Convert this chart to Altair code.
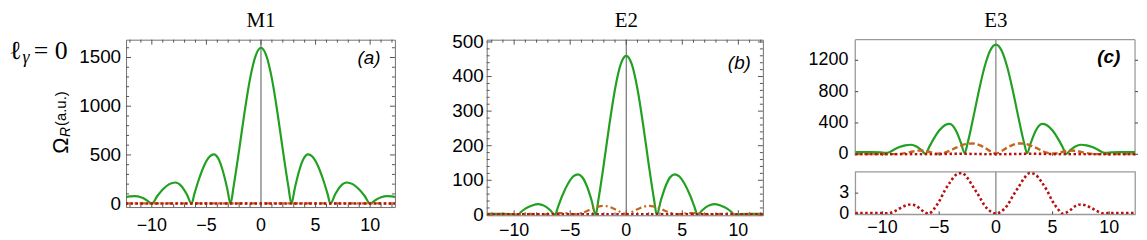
import altair as alt
import pandas as pd

# ---------------- values ----------------
# (a) M1
M1_GREEN_X = [-12.4, -12, -11.5, -11, -10.5, -10, -9.5, -9, -8.4, -7.85, -7.3, -6.8, -6.36, -6.1, -5.7, -5.2, -4.7, -4.31, -3.9, -3.5, -3.1, -2.79, -2.5, -2, -1.5, -1, -0.5,
              0, 0.5, 1, 1.5, 2, 2.5, 2.79, 3.1, 3.5, 3.9, 4.31, 4.7, 5.2, 5.7, 6.1, 6.36, 6.8, 7.3, 7.85, 8.4, 9, 9.5, 10, 10.5, 11, 11.5, 12, 12.4]
M1_GREEN_Y = [67, 74, 78, 65, 38, 0, 78, 145, 200, 217, 182, 97, 0, 100, 245, 392, 483, 505, 460, 338, 159, 0, 182, 552, 941, 1283, 1515,
              1600, 1515, 1283, 941, 552, 182, 0, 159, 338, 460, 505, 483, 392, 245, 100, 0, 97, 182, 217, 200, 145, 78, 0, 38, 65, 78, 74, 67]
M1_ORANGE_X = [-12.4, -6, 0, 6, 12.4]
M1_ORANGE_Y = [2, 2, 2, 2, 2]
M1_RED_X = [-12.4, -6, 0, 6, 12.4]
M1_RED_Y = [2, 2, 2, 2, 2]

# (b) E2
E2_GREEN_X = [-12.4, -12, -11, -10.2, -9.65, -9.4, -9, -8.4, -7.85, -7.3, -6.8, -6.35, -6.1, -5.7, -5.2, -4.7, -4.3, -3.9, -3.5, -3.1, -2.72, -2.5, -2, -1.5, -1, -0.5,
              0, 0.5, 1, 1.5, 2, 2.5, 2.72, 3.1, 3.5, 3.9, 4.3, 4.7, 5.2, 5.7, 6.1, 6.35, 6.8, 7.3, 7.85, 8.4, 9, 9.4, 9.65, 10.2, 11, 12, 12.4]
E2_GREEN_Y = [3, 3, 3, 2, 0, 8, 18, 27, 31, 26, 14, 0, 22, 56, 90, 112, 117, 108, 82, 43, 0, 40, 147, 262, 364, 435,
              460, 435, 364, 262, 147, 40, 0, 43, 82, 108, 117, 112, 90, 56, 22, 0, 14, 26, 31, 27, 18, 8, 0, 2, 3, 3, 3]
E2_ORANGE_X = [-12.4, -11, -10, -9.5, -9, -8.5, -8, -7.5, -7, -6.5, -6, -5.5, -5, -4.5, -4, -3.5, -3, -2.5, -2, -1.5, -1, -0.5,
               0, 0.5, 1, 1.5, 2, 2.5, 3, 3.5, 4, 4.5, 5, 5.5, 6, 6.5, 7, 7.5, 8, 8.5, 9, 9.5, 10, 11, 12.4]
E2_ORANGE_Y = [1, 1, 1, 2, 3, 3, 2, 1, 2, 4, 5, 5, 3, 2, 5, 11, 19, 24, 26, 23, 16, 8,
               2, 8, 16, 23, 26, 24, 19, 11, 5, 2, 3, 5, 5, 4, 2, 1, 2, 3, 3, 2, 1, 1, 1]
E2_RED_X = [-12.4, -6, 0, 6, 12.4]
E2_RED_Y = [2, 2, 2, 2, 2]

# (c) E3
E3_GREEN_X = [-12.4, -12, -11, -10.2, -9.7, -9.4, -9, -8.5, -8, -7.5, -7, -6.6, -6.2, -5.9, -5.5, -5, -4.5, -4.1, -3.8, -3.5, -3.1, -2.75, -2.5, -2, -1.5, -1, -0.5,
              0, 0.5, 1, 1.5, 2, 2.5, 2.75, 3.1, 3.5, 3.8, 4.1, 4.5, 5, 5.5, 5.9, 6.2, 6.6, 7, 7.5, 8, 8.5, 9, 9.4, 9.7, 10.2, 11, 12, 12.4]
E3_GREEN_Y = [28, 28, 28, 24, 18, 26, 58, 92, 114, 122, 100, 57, 5, 87, 194, 303, 371, 388, 365, 297, 154, 15, 138, 463, 809, 1114, 1325,
              1400, 1325, 1114, 809, 463, 138, 15, 154, 297, 365, 388, 371, 303, 194, 87, 5, 57, 100, 122, 114, 92, 58, 26, 18, 24, 28, 28, 28]
E3_ORANGE_X = [-12.4, -10, -9, -8.5, -8, -7.5, -7, -6.5, -6, -5.5, -5, -4.5, -4, -3.5, -3, -2.5, -2, -1.5, -1, -0.5,
               0, 0.5, 1, 1.5, 2, 2.5, 3, 3.5, 4, 4.5, 5, 5.5, 6, 6.5, 7, 7.5, 8, 8.5, 9, 10, 12.4]
E3_ORANGE_Y = [2, 2, 2, 5, 15, 30, 45, 48, 35, 15, 8, 20, 50, 85, 115, 135, 138, 120, 85, 40,
               10, 40, 85, 120, 138, 135, 115, 85, 50, 20, 8, 15, 35, 48, 45, 30, 15, 5, 2, 2, 2]
E3_RED_X = [-12.4, -12, -11, -10, -9.5, -9, -8.5, -8, -7.5, -7, -6.5, -5.9, -5.5, -5, -4.5, -4, -3.5, -3, -2.5, -2, -1.5, -1, -0.5,
            0, 0.5, 1, 1.5, 2, 2.5, 3, 3.5, 4, 4.5, 5, 5.5, 5.9, 6.5, 7, 7.5, 8, 8.5, 9, 9.5, 10, 11, 12, 12.4]
E3_RED_Y = [0.1, 0.1, 0.1, 0.08, 0.05, 0.3, 0.75, 1.15, 1.34, 1.1, 0.45, 0, 0.6, 1.8, 3.4, 4.7, 5.7, 5.95, 5.2, 3.9, 2.6, 1.2, 0.35,
            0, 0.35, 1.2, 2.6, 3.9, 5.2, 5.95, 5.7, 4.7, 3.4, 1.8, 0.6, 0, 0.45, 1.1, 1.34, 1.15, 0.75, 0.3, 0.05, 0.08, 0.1, 0.1, 0.1]

# tick values, tick labels and texts
X_MAJOR = [-10, -5, 0, 5, 10]
X_LABELS = ["\u221210", "\u22125", "0", "5", "10"]
X_MINOR = [-12, -11, -9, -8, -7, -6, -4, -3, -2, -1, 1, 2, 3, 4, 6, 7, 8, 9, 11, 12]
A_Y_MAJOR = [0, 500, 1000, 1500]
A_Y_LABELS = ["0", "500", "1000", "1500"]
A_Y_MINOR = [100, 200, 300, 400, 600, 700, 800, 900, 1100, 1200, 1300, 1400, 1600]
B_Y_MAJOR = [0, 100, 200, 300, 400, 500]
B_Y_LABELS = ["0", "100", "200", "300", "400", "500"]
B_Y_MINOR = [20, 40, 60, 80, 120, 140, 160, 180, 220, 240, 260, 280, 320, 340, 360, 380, 420, 440, 460, 480]
C_Y_MAJOR = [0, 400, 800, 1200]
C_Y_LABELS = ["0", "400", "800", "1200"]
CL_Y_MAJOR = [0, 3]
CL_Y_LABELS = ["0", "3"]
ZERO = [0]
TITLES = ["M1", "E2", "E3"]
TAGS = ["(a)", "(b)", "(c)"]

# ---------------- styling ----------------
SANS = "Liberation Sans"
SERIF = "Liberation Serif"
GREEN = "#22a022"
ORANGE = "#c4661c"
RED = "#b81010"
TICK = "#555555"
FRAME = "#707070"
FRAME_C = "#9a9a9a"
DASHDOT = [6, 3, 2, 3]
DOT = [2.5, 2.5]


def sc(dom):
    return alt.Scale(domain=dom, nice=False, zero=False)


def curve(xs, ys, xsc, ysc, color, dash=None, width=2.2):
    kw = dict(color=color, strokeWidth=width, clip=True, interpolate="monotone")
    if dash is not None:
        kw["strokeDash"] = dash
    return alt.Chart(pd.DataFrame({"x": xs, "y": ys})).mark_line(**kw).encode(
        x=alt.X("x:Q", scale=xsc, axis=None),
        y=alt.Y("y:Q", scale=ysc, axis=None),
    )


def zero_rule(xsc, color, width):
    return alt.Chart(pd.DataFrame({"x": ZERO})).mark_rule(color=color, strokeWidth=width).encode(
        x=alt.X("x:Q", scale=xsc, axis=None))


def ticks(vals, side, length, w, h, xsc, ysc, color=TICK, width=1.0):
    base = alt.Chart(pd.DataFrame({"v": vals})).mark_rule(color=color, strokeWidth=width)
    if side in ("bottom", "top"):
        enc = dict(x=alt.X("v:Q", scale=xsc, axis=None))
        if side == "bottom":
            enc.update(y=alt.value(h), y2=alt.value(h - length))
        else:
            enc.update(y=alt.value(0), y2=alt.value(length))
    else:
        enc = dict(y=alt.Y("v:Q", scale=ysc, axis=None))
        if side == "left":
            enc.update(x=alt.value(0), x2=alt.value(length))
        else:
            enc.update(x=alt.value(w), x2=alt.value(w - length))
    return base.encode(**enc)


def xlabels(xsc, h, pad, size):
    df = pd.DataFrame({"v": X_MAJOR, "s": X_LABELS})
    return alt.Chart(df).mark_text(font=SANS, fontSize=size, align="center", baseline="top", color="black").encode(
        x=alt.X("v:Q", scale=xsc, axis=None), y=alt.value(h + pad), text="s:N")


def ylabels(vals, labels, ysc, pad, size):
    df = pd.DataFrame({"v": vals, "s": labels})
    return alt.Chart(df).mark_text(font=SANS, fontSize=size, align="right", baseline="middle", color="black").encode(
        y=alt.Y("v:Q", scale=ysc, axis=None), x=alt.value(-pad), text="s:N")


def text(txt, x, y, size, font=SANS, align="left", baseline="alphabetic", **extra):
    return alt.Chart(pd.DataFrame({"t": [txt]})).mark_text(
        font=font, fontSize=size, align=align, baseline=baseline, color="black", **extra
    ).encode(text="t:N", x=x, y=y)


def frame_ticks(w, h, xsc, ysc, ymaj, ymin):
    out = []
    for side in ("bottom", "top"):
        out.append(ticks(X_MAJOR, side, 5, w, h, xsc, ysc))
        out.append(ticks(X_MINOR, side, 3, w, h, xsc, ysc))
    for side in ("left", "right"):
        out.append(ticks(ymaj, side, 5, w, h, xsc, ysc))
        out.append(ticks(ymin, side, 3, w, h, xsc, ysc))
    return out


# ---------------- panel (a) ----------------
A_W, A_H = 271, 168.7
axs, ays = sc([-12.36, 12.27]), sc([-35, 1683])
panel_a = alt.layer(
    *frame_ticks(A_W, A_H, axs, ays, A_Y_MAJOR, A_Y_MINOR),
    zero_rule(axs, "#555555", 1),
    curve(M1_GREEN_X, M1_GREEN_Y, axs, ays, GREEN),
    curve(M1_ORANGE_X, M1_ORANGE_Y, axs, ays, ORANGE, dash=DASHDOT),
    curve(M1_RED_X, M1_RED_Y, axs, ays, RED, dash=DOT, width=2.4),
    xlabels(axs, A_H, 10, 18),
    ylabels(A_Y_MAJOR, A_Y_LABELS, ays, 5, 19),
    text(TITLES[0], alt.XDatum(0, scale=axs, axis=None), alt.value(-13), 21, font=SERIF, align="center"),
    text(TAGS[0], alt.value(244.8), alt.value(18.5), 19, align="center", baseline="middle", fontStyle="italic"),
    text("ℓ", alt.value(-117.7), alt.value(19), 26, font="DejaVu Serif"),
    text("γ", alt.value(-104.5), alt.value(24), 18, font=SERIF, fontStyle="italic"),
    text("= 0", alt.value(-93), alt.value(19), 26, font=SERIF),
    text("Ω", alt.value(-59), alt.value(115), 22, angle=270),
    text("R", alt.value(-56.5), alt.value(98), 14, angle=270, fontStyle="italic"),
    text("(a.u.)", alt.value(-60.5), alt.value(87), 15, angle=270),
).properties(width=A_W, height=A_H, view=alt.ViewBackground(stroke=FRAME, strokeWidth=1))

# ---------------- panel (b) ----------------
B_W, B_H = 278.4, 177
bxs, bys = sc([-12.45, 12.19]), sc([-1.2, 506.6])
panel_b = alt.layer(
    *frame_ticks(B_W, B_H, bxs, bys, B_Y_MAJOR, B_Y_MINOR),
    zero_rule(bxs, "#555555", 1),
    curve(E2_GREEN_X, E2_GREEN_Y, bxs, bys, GREEN),
    curve(E2_ORANGE_X, E2_ORANGE_Y, bxs, bys, ORANGE, dash=DASHDOT),
    curve(E2_RED_X, E2_RED_Y, bxs, bys, RED, dash=DOT, width=2.4),
    xlabels(bxs, B_H, 7, 18),
    ylabels(B_Y_MAJOR, B_Y_LABELS, bys, 3, 19),
    text(TITLES[1], alt.XDatum(0, scale=bxs, axis=None), alt.value(-13), 21, font=SERIF, align="center"),
    text(TAGS[1], alt.value(254.7), alt.value(23.5), 19, align="center", baseline="middle", fontStyle="italic"),
).properties(width=B_W, height=B_H, view=alt.ViewBackground(stroke=FRAME, strokeWidth=1))

# ---------------- panel (c) ----------------
C_W, CU_H, CL_H = 282, 117, 43
cxs, cuys, clys = sc([-12.4, 12.27]), sc([-19, 1464]), sc([-0.1, 6.15])
one = pd.DataFrame({"k": ZERO})
c_frame = [
    alt.Chart(one).mark_rule(color=FRAME_C, strokeWidth=1.3).encode(x=alt.value(0), y=alt.value(0), y2=alt.value(CU_H)),
    alt.Chart(one).mark_rule(color=FRAME_C, strokeWidth=1.3).encode(x=alt.value(C_W), y=alt.value(0), y2=alt.value(CU_H)),
    alt.Chart(one).mark_rule(color=FRAME_C, strokeWidth=1.3).encode(x=alt.value(0), x2=alt.value(C_W), y=alt.value(0)),
]
c_upper = alt.layer(
    *c_frame,
    ticks(X_MAJOR, "bottom", 3, C_W, CU_H, cxs, cuys, color="#444444"),
    ticks(C_Y_MAJOR, "left", 3, C_W, CU_H, cxs, cuys, color="#444444"),
    ticks(C_Y_MAJOR, "right", -3, C_W, CU_H, cxs, cuys, color="#444444"),
    zero_rule(cxs, "#888888", 1.3),
    curve(E3_GREEN_X, E3_GREEN_Y, cxs, cuys, GREEN),
    curve(E3_ORANGE_X, E3_ORANGE_Y, cxs, cuys, ORANGE, dash=[6, 3], width=2.4),
    curve(E3_RED_X, E3_RED_Y, cxs, cuys, RED, dash=DOT, width=2.6),
    ylabels(C_Y_MAJOR, C_Y_LABELS, cuys, 7, 18),
    text(TITLES[2], alt.XDatum(0, scale=cxs, axis=None), alt.value(-13), 21, font=SERIF, align="center"),
    text(TAGS[2], alt.value(255.5), alt.value(18), 19, align="center", baseline="middle",
         fontStyle="italic", fontWeight="bold"),
).properties(width=C_W, height=CU_H, view=alt.ViewBackground(stroke="transparent"))

c_lower = alt.layer(
    ticks(X_MAJOR, "bottom", 3, C_W, CL_H, cxs, clys, color="#444444"),
    ticks(CL_Y_MAJOR, "left", 3, C_W, CL_H, cxs, clys, color="#444444"),
    zero_rule(cxs, "#888888", 1.3),
    curve(E3_RED_X, E3_RED_Y, cxs, clys, RED, dash=DOT, width=2.6),
    xlabels(cxs, CL_H, 5, 18),
    ylabels(CL_Y_MAJOR, CL_Y_LABELS, clys, 6, 18),
).properties(width=C_W, height=CL_H, view=alt.ViewBackground(stroke=FRAME_C, strokeWidth=1.3))

panel_c = alt.vconcat(c_upper, c_lower, spacing=16, bounds="flush")

chart = alt.hconcat(panel_a, panel_b, panel_c, spacing=92.5, bounds="flush").properties(
    padding={"left": 0, "top": 0, "right": 0, "bottom": 0}
).configure(background="white")

chart.save("out.html", embed_options={"renderer": "svg", "actions": False})
